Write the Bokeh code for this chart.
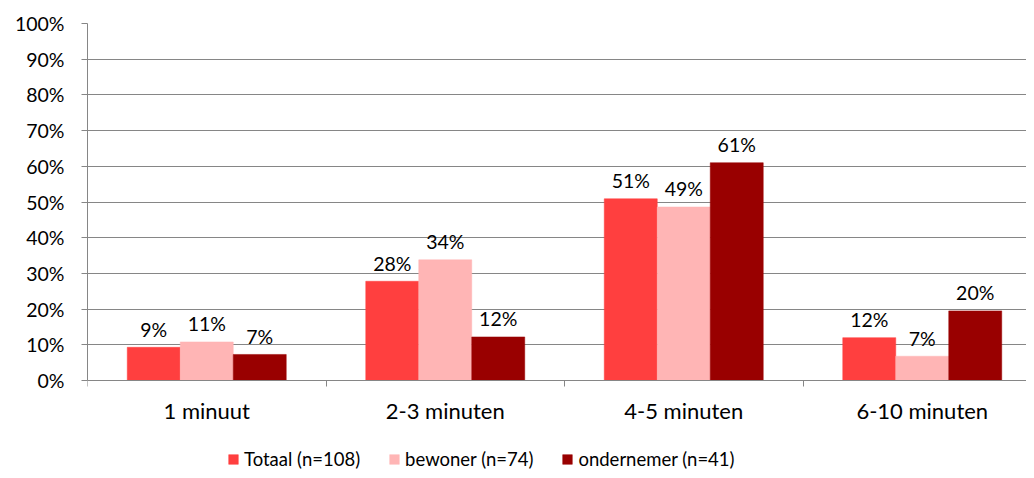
from bokeh.plotting import figure
from bokeh.models import (ColumnDataSource, Range1d, FixedTicker, Legend, LegendItem,
                          NumeralTickFormatter)
from bokeh.transform import dodge
from bokeh.core.properties import value
from bokeh.embed import file_html
from bokeh.resources import INLINE

categories = ["1 minuut", "2-3 minuten", "4-5 minuten", "6-10 minuten"]
series_names = ["Totaal (n=108)", "bewoner (n=74)", "ondernemer (n=41)"]
totaal = [9.3, 27.8, 50.9, 12.0]
bewoner = [10.8, 33.8, 48.6, 6.8]
ondernemer = [7.3, 12.2, 61.0, 19.5]
totaal_labels = ["9%", "28%", "51%", "12%"]
bewoner_labels = ["11%", "34%", "49%", "7%"]
ondernemer_labels = ["7%", "12%", "61%", "20%"]
y_ticks = [0, 10, 20, 30, 40, 50, 60, 70, 80, 90, 100]

colors = ["#FF3F3F", "#FFB5B5", "#990000"]
FONT = "Lato"
FS_NUM = "19.5px"
FS_CAT = "22px"
FS_LEG = "18.5px"
BW = 0.2222
W, H = 1026, 470
LEFT, TOP, ZERO_Y = 87, 23, 380
PX_PER_UNIT = (ZERO_Y - TOP) / 100.0
Y_START = -(H - ZERO_Y) / PX_PER_UNIT

centers = [i + 0.5 for i in range(len(categories))]
src = ColumnDataSource(dict(x=centers, t=totaal, b=bewoner, o=ondernemer,
                            tl=totaal_labels, bl=bewoner_labels, ol=ondernemer_labels))
cat_src = ColumnDataSource(dict(x=centers, y=[0] * len(centers), name=categories))

p = figure(width=W, height=H, output_backend="svg", toolbar_location=None,
           x_range=Range1d(0, (W - LEFT) / 238.5), y_range=Range1d(Y_START, 100),
           x_axis_location="above")
p.min_border_left = LEFT
p.min_border_top = TOP
p.min_border_bottom = 0
p.min_border_right = 0
p.outline_line_color = None
p.background_fill_color = "white"
p.border_fill_color = "white"

renderers = []
for col, lab, off, c in [("t", "tl", -BW, colors[0]), ("b", "bl", 0, colors[1]), ("o", "ol", BW, colors[2])]:
    r = p.vbar(x=dodge("x", off, range=p.x_range), top=col, width=BW, bottom=0, source=src,
               fill_color=c, line_color=c, line_width=0.5)
    renderers.append(r)
    p.text(x=dodge("x", off, range=p.x_range), y=col, text=lab, source=src,
           text_align="center", text_baseline="alphabetic", y_offset=-18,
           text_font=value(FONT), text_font_size=FS_NUM, text_color="#000000")

# category labels under the zero line
p.text(x="x", y="y", text="name", source=cat_src, text_align="center",
       text_baseline="middle", y_offset=30, text_font=value(FONT),
       text_font_size=FS_CAT, text_color="#000000")

# y axis
p.yaxis.ticker = FixedTicker(ticks=y_ticks)
p.yaxis.bounds = (0, 100)
p.yaxis.formatter = NumeralTickFormatter(format="0")
p.yaxis.major_label_overrides = {t: f"{t}%" for t in y_ticks}
p.yaxis.axis_line_color = "#868686"
p.yaxis.major_tick_line_color = "#868686"
p.yaxis.major_tick_out = 6
p.yaxis.major_tick_in = 0
p.yaxis.minor_tick_line_color = None
p.yaxis.major_label_standoff = 17
p.yaxis.major_label_text_font = FONT
p.yaxis.major_label_text_font_size = FS_NUM
p.yaxis.major_label_text_color = "#000000"

# x axis: category axis line at zero with boundary ticks pointing down
boundaries = list(range(len(categories) + 1))
p.xaxis.fixed_location = 0
p.xaxis.ticker = FixedTicker(ticks=boundaries, minor_ticks=[])
p.xaxis.major_label_overrides = {b: "" for b in boundaries}
p.xaxis.major_label_text_font_size = "1px"
p.xaxis.major_label_standoff = 0
p.xaxis.axis_line_color = "#868686"
p.xaxis.major_tick_line_color = "#868686"
p.xaxis.major_tick_out = 0
p.xaxis.major_tick_in = 6
p.xaxis.minor_tick_line_color = None

p.xgrid.grid_line_color = None
p.ygrid.grid_line_color = "#868686"
p.ygrid.ticker = FixedTicker(ticks=y_ticks)

legend = Legend(items=[LegendItem(label=n, renderers=[r]) for n, r in zip(series_names, renderers)],
                orientation="horizontal", location=(140, 0))
legend.glyph_width = 12
legend.glyph_height = 12
legend.label_standoff = 5
legend.spacing = 28
legend.padding = 0
legend.margin = 0
legend.border_line_color = None
legend.background_fill_alpha = 0
legend.label_text_font = FONT
legend.label_text_font_size = FS_LEG
legend.label_text_color = "#000000"
legend.label_height = 20
p.add_layout(legend, "center")

open("out.html", "w").write(file_html(p, INLINE))
